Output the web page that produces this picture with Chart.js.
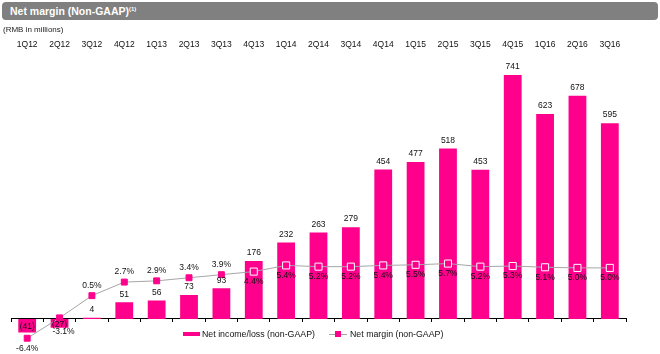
<!DOCTYPE html>
<html>
<head>
<meta charset="utf-8">
<script src="https://cdn.jsdelivr.net/npm/chart.js@4.4.0/dist/chart.umd.min.js"></script>
<style>
  html, body { margin: 0; padding: 0; background: #fff; }
  #wrap { position: relative; width: 660px; height: 354px; font-family: "Liberation Sans", Arial, sans-serif; }
  #wrap canvas { position: absolute; left: 0; top: 0; }
  #title { position: absolute; left: 2px; top: 2px; width: 656px; height: 18px; background: #808080; border-radius: 4px;
           color: #fff; font-weight: bold; font-size: 10.5px; line-height: 18px; padding-left: 8px; box-sizing: border-box; }
  #title sup { font-size: 6px; vertical-align: 4px; line-height: 0; }
  #unit { position: absolute; left: 3px; top: 25px; font-size: 8px; color: #222; }
  .lg-text { position: absolute; top: 329px; font-size: 8.8px; line-height: 10px; color: #111; white-space: nowrap; }
  .lg-bar { position: absolute; left: 183px; top: 332px; width: 17px; height: 4px; background: #ff008c; }
  .lg-line { position: absolute; left: 329px; top: 334px; width: 18px; height: 1px; background: #a6a6a6; }
  .lg-dot { position: absolute; left: 335px; top: 331px; width: 6px; height: 6px; background: #ff008c; }
</style>
</head>
<body>
<div id="wrap">
  <canvas id="myChart"></canvas>
  <div id="title">Net margin (Non-GAAP)<sup>(1)</sup></div>
  <div id="unit">(RMB in millions)</div>
  <div class="lg-bar"></div>
  <div class="lg-text" id="name1" style="left:202px"></div>
  <div class="lg-line"></div>
  <div class="lg-dot"></div>
  <div class="lg-text" id="name2" style="left:350px"></div>
</div>
<script>
const quarters = ['1Q12', '2Q12', '3Q12', '4Q12', '1Q13', '2Q13', '3Q13', '4Q13', '1Q14', '2Q14',
                  '3Q14', '4Q14', '1Q15', '2Q15', '3Q15', '4Q15', '1Q16', '2Q16', '3Q16'];
const netIncome = [-41, -27, 4, 51, 56, 73, 93, 176, 232, 263, 279, 454, 477, 518, 453, 741, 623, 678, 595];
const netMargin = [-6.4, -3.1, 0.5, 2.7, 2.9, 3.4, 3.9, 4.4, 5.4, 5.2, 5.2, 5.4, 5.5, 5.7, 5.2, 5.3, 5.1, 5.0, 5.0];
const seriesNames = ['Net income/loss (non-GAAP)', 'Net margin (non-GAAP)'];

const pink = '#ff008c';
const FONT = '"Liberation Sans", Arial, sans-serif';

document.getElementById('name1').textContent = seriesNames[0];
document.getElementById('name2').textContent = seriesNames[1];

// marker sits on top of a bar -> hollow white square, label below
function insideBar(c) {
    const i = c.dataIndex;
    const s = c.chart.scales;
    if (!s.y || !s.y1 || netIncome[i] <= 0) return false;
    return s.y.getPixelForValue(netIncome[i]) < s.y1.getPixelForValue(netMargin[i]) - 3;
}

const valueLabels = {
    id: 'valueLabels',
    afterDatasetsDraw(chart) {
        const ctx = chart.ctx;
        ctx.save();
        ctx.font = '8.5px ' + FONT;
        ctx.fillStyle = '#111';
        ctx.textAlign = 'center';
        ctx.textBaseline = 'middle';
        // dataset 1 = bars, dataset 0 = line
        chart.getDatasetMeta(1).data.forEach((bar, i) => {
            const v = netIncome[i];
            if (v < 0) ctx.fillText('(' + Math.abs(v) + ')', bar.x, (bar.y + bar.base) / 2 + 1);
            else ctx.fillText(String(v), bar.x, bar.y - 8);
        });
        chart.getDatasetMeta(0).data.forEach((pt, i) => {
            const v = netMargin[i];
            const below = v < 0 || insideBar({chart: chart, dataIndex: i});
            let dy = below ? 10 : -10;
            if (v < 0 && v > -5) dy = 14;
            ctx.fillText(v.toFixed(1) + '%', pt.x + (dy === 14 ? 4 : 0), pt.y + dy);
        });
        ctx.restore();
    }
};

const ctx = document.getElementById('myChart').getContext('2d');
new Chart(ctx, {
    data: {
        labels: quarters,
        datasets: [{
            type: 'line',
            label: seriesNames[1],
            data: netMargin,
            yAxisID: 'y1',
            xAxisID: 'x',
            order: 1,
            borderColor: '#a6a6a6',
            borderWidth: 1,
            tension: 0,
            pointStyle: 'rect',
            pointRadius: c => insideBar(c) ? 5 : 4.2,
            pointBackgroundColor: pink,
            pointBorderColor: c => insideBar(c) ? '#ffffff' : pink,
            pointBorderWidth: 1,
            clip: false
        }, {
            type: 'bar',
            label: seriesNames[0],
            data: netIncome,
            yAxisID: 'y',
            xAxisID: 'x',
            order: 2,
            backgroundColor: pink,
            barPercentage: 0.55,
            categoryPercentage: 1
        }]
    },
    options: {
        responsive: true,
        maintainAspectRatio: false,
        animation: false,
        layout: { padding: { top: 39, left: 11, right: 34, bottom: 4 } },
        plugins: {
            legend: { display: false },
            tooltip: { enabled: false }
        },
        scales: {
            x: {
                position: 'top',
                offset: true,
                grid: { display: false, offset: true, drawTicks: false, tickLength: 0 },
                border: { display: false },
                ticks: { color: '#111', font: { size: 8.5, family: FONT }, padding: 1, maxRotation: 0, autoSkip: false }
            },
            x2: {
                type: 'category',
                position: { y: 0 },
                offset: true,
                z: 1,
                grid: { offset: true, drawOnChartArea: false, drawTicks: true, tickLength: 3, color: '#000' },
                border: { display: true, color: '#000', width: 1 },
                ticks: { display: false }
            },
            y: { display: false, min: -90.7, max: 813.6 },
            y1: { display: false, min: -8.11, max: 40.11 }
        }
    },
    plugins: [valueLabels]
});
</script>
</body>
</html>
